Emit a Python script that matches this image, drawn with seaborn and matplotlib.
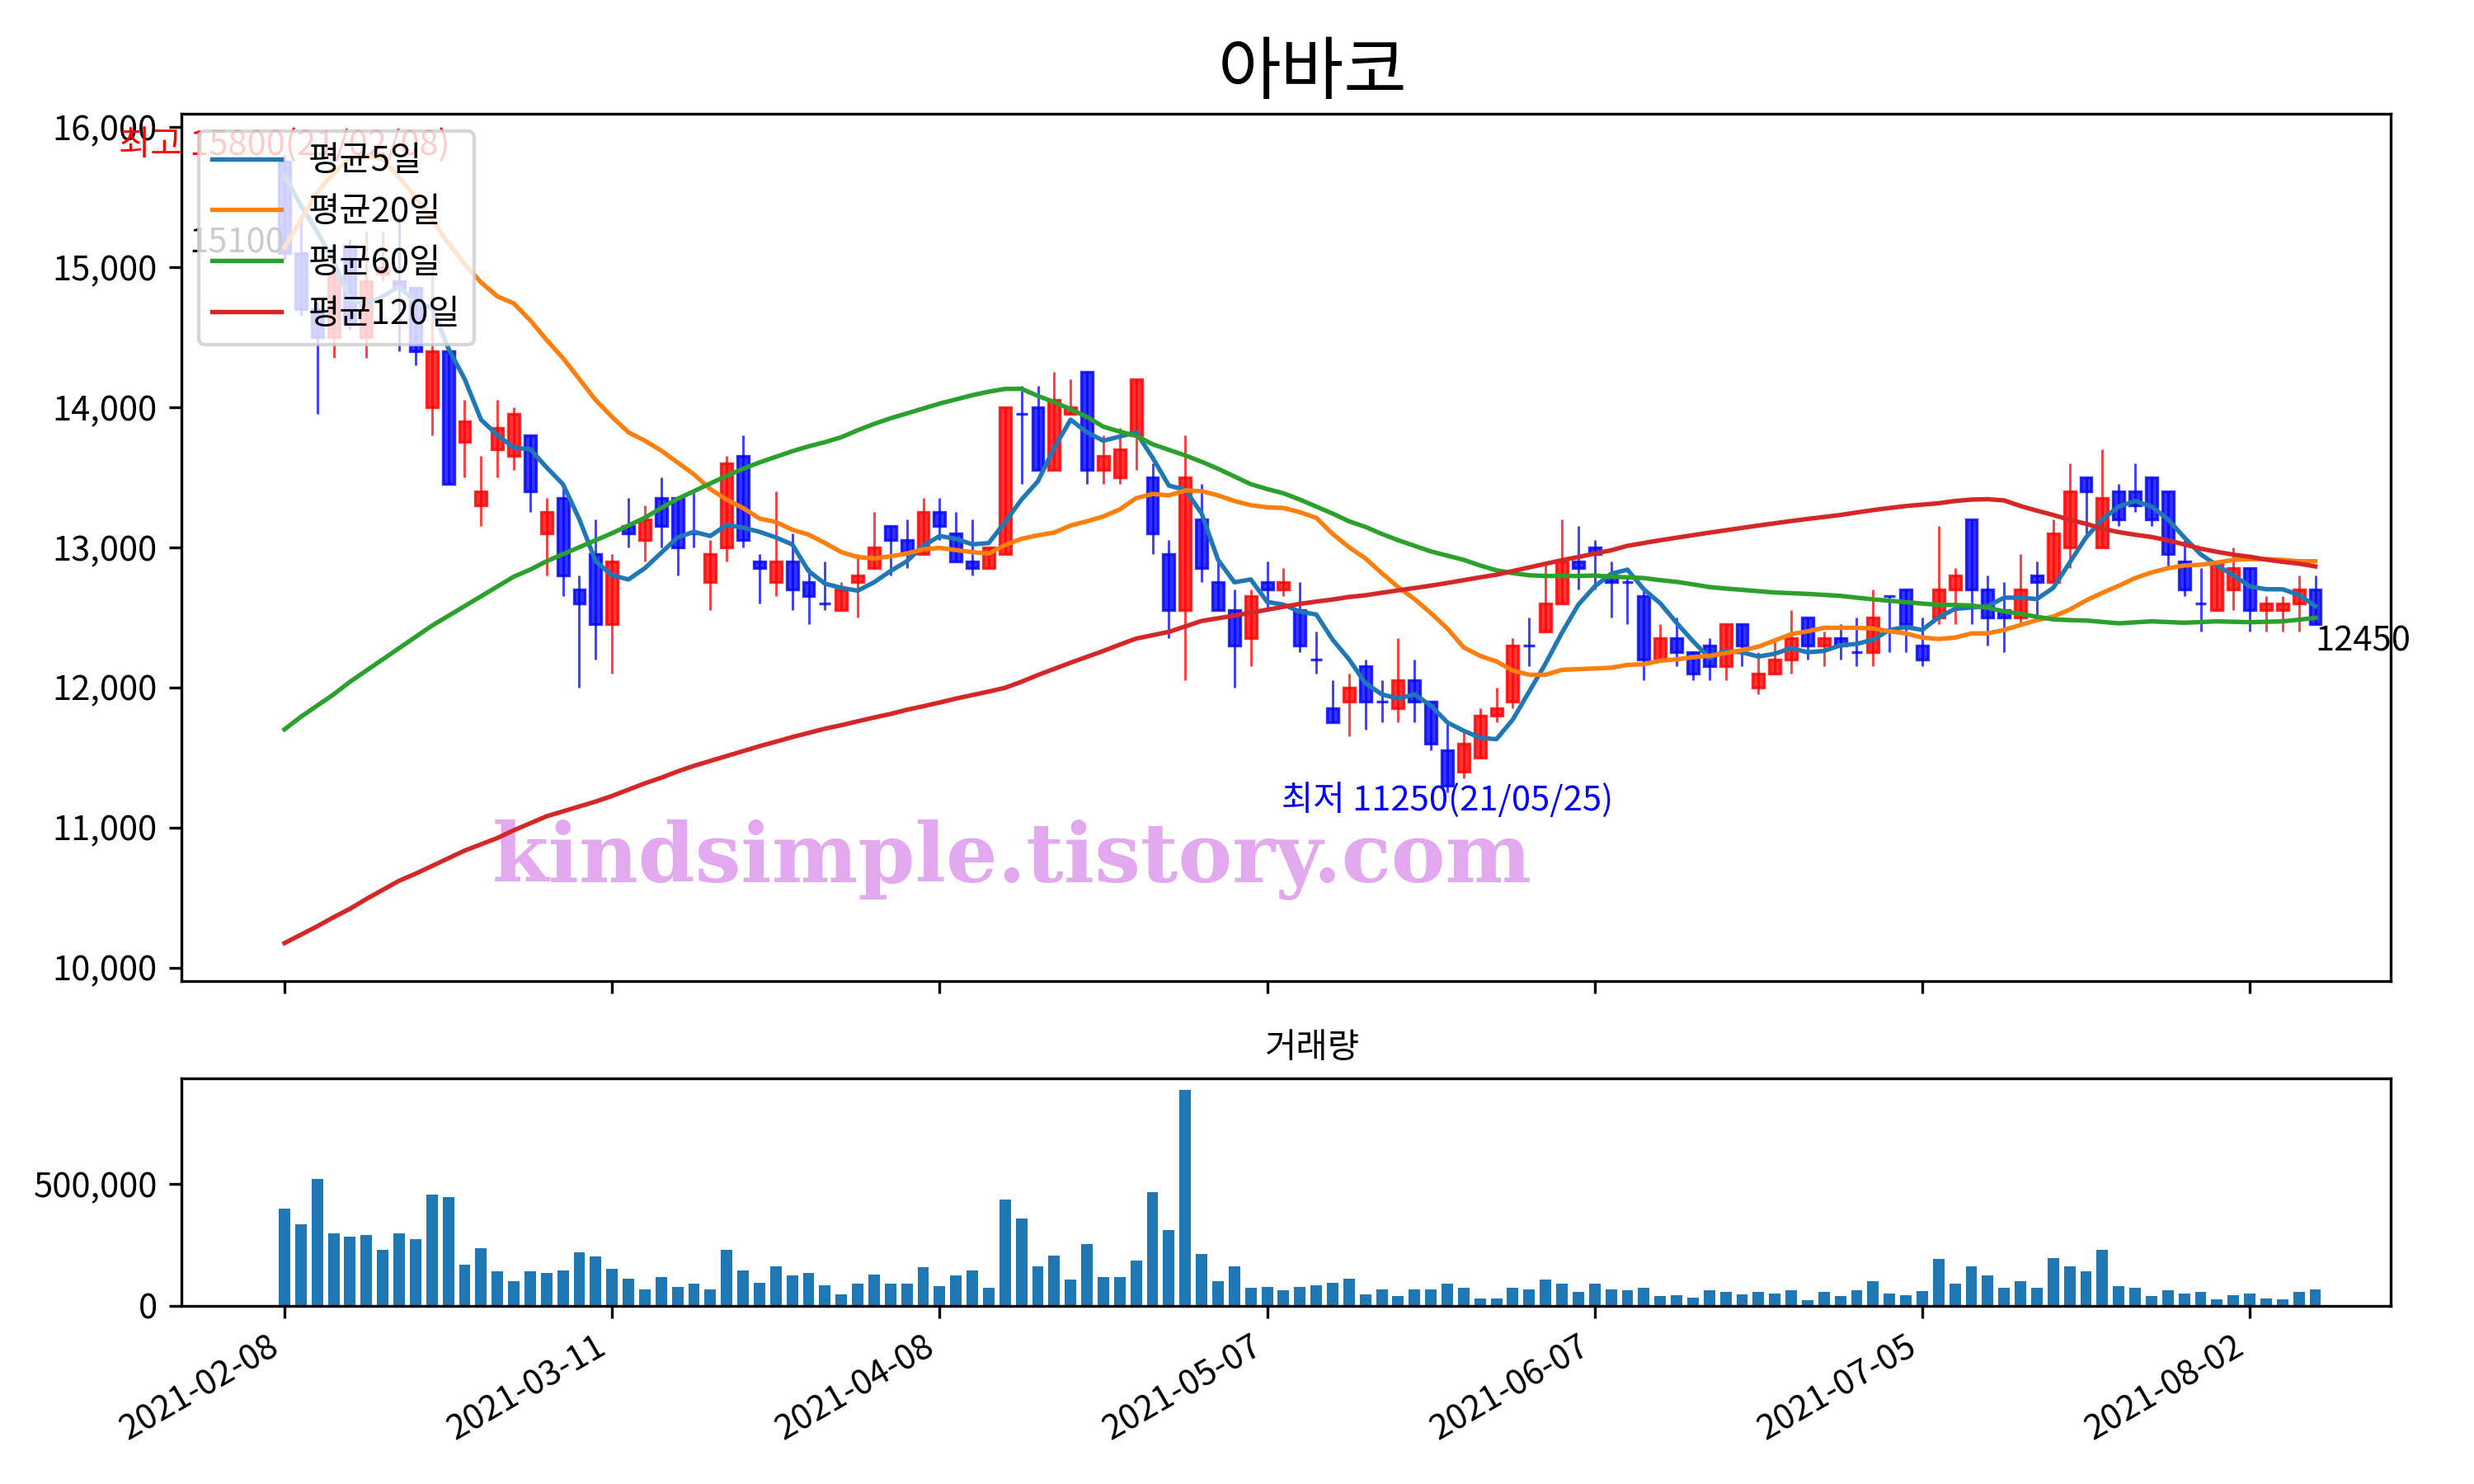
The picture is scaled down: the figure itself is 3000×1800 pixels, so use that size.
import numpy as np
import pandas as pd
import matplotlib
matplotlib.use('Agg')
import matplotlib.pyplot as plt
import seaborn as sns
from matplotlib.ticker import FuncFormatter

# trading days (KRX), holidays in the period
holidays = ['2021-02-11', '2021-02-12', '2021-03-01', '2021-05-05', '2021-05-19']
dates = pd.bdate_range('2021-02-08', '2021-08-06', freq='C', holidays=holidays)

opens = [15750, 15100, 14700, 14500, 15150, 14500, 14950, 14900, 14850, 14000,
         14400, 13750, 13300, 13700, 13650, 13800, 13100, 13350, 12700, 12950,
         12450, 13150, 13050, 13350, 13350, 13100, 12750, 13000, 13650, 12900,
         12750, 12900, 12750, 12600, 12550, 12750, 12850, 13150, 13050, 12950,
         13250, 13100, 12900, 12850, 12950, 13950, 14000, 13550, 13950, 14250,
         13550, 13500, 13800, 13500, 12950, 12550, 13200, 12750, 12550, 12350,
         12750, 12700, 12550, 12200, 11850, 11900, 12150, 11900, 11850, 12050,
         11900, 11550, 11400, 11500, 11800, 11900, 12300, 12400, 12600, 12900,
         13000, 12800, 12750, 12650, 12200, 12350, 12250, 12300, 12150, 12450,
         12000, 12100, 12200, 12500, 12300, 12350, 12250, 12250, 12650, 12700,
         12300, 12500, 12700, 13200, 12700, 12550, 12500, 12800, 12750, 13000,
         13500, 13000, 13400, 13400, 13500, 13400, 12900, 12600, 12550, 12700,
         12850, 12550, 12550, 12600, 12700]
highs = [15800, 15350, 14750, 15000, 15200, 15250, 15250, 15350, 14850, 15000,
         14450, 14050, 13650, 14050, 14000, 13800, 13350, 13450, 12800, 13200,
         12950, 13350, 13300, 13500, 13350, 13400, 13050, 13650, 13800, 12950,
         13400, 13100, 12850, 12900, 12750, 12950, 13250, 13150, 13200, 13350,
         13350, 13250, 13200, 13000, 14000, 14150, 14150, 14250, 14200, 14250,
         13800, 13850, 14200, 13600, 13050, 13800, 13450, 12900, 12700, 12700,
         12900, 12850, 12750, 12400, 12050, 12100, 12200, 12050, 12350, 12200,
         11900, 11750, 11700, 11850, 12000, 12350, 12500, 12900, 13200, 13150,
         13050, 12900, 12800, 12700, 12450, 12500, 12250, 12350, 12450, 12450,
         12250, 12350, 12550, 12500, 12400, 12450, 12500, 12700, 12650, 12700,
         12500, 13150, 12850, 13200, 12800, 12750, 12950, 12900, 13200, 13600,
         13500, 13700, 13450, 13600, 13500, 13400, 13050, 12850, 12900, 13000,
         12850, 12650, 12650, 12800, 12800]
lows = [15050, 14650, 13950, 14350, 14550, 14350, 14900, 14400, 14300, 13800,
        13450, 13500, 13150, 13500, 13550, 13250, 12800, 12650, 12000, 12200,
        12100, 13000, 12900, 13000, 12800, 13000, 12550, 12900, 13000, 12600,
        12650, 12550, 12450, 12550, 12550, 12500, 12850, 12800, 12850, 12950,
        13050, 12900, 12800, 12850, 12950, 13450, 13550, 13550, 13950, 13450,
        13450, 13450, 13550, 12950, 12350, 12050, 12750, 12550, 12000, 12150,
        12550, 12650, 12250, 12100, 11750, 11650, 11700, 11750, 11750, 11750,
        11550, 11250, 11350, 11500, 11750, 11850, 12150, 12400, 12600, 12700,
        12700, 12500, 12450, 12050, 12200, 12150, 12050, 12050, 12050, 12150,
        11950, 12100, 12100, 12200, 12150, 12200, 12150, 12150, 12250, 12250,
        12150, 12450, 12450, 12450, 12300, 12250, 12450, 12500, 12750, 12850,
        13100, 13000, 13150, 13250, 13150, 12850, 12650, 12400, 12550, 12550,
        12400, 12400, 12400, 12400, 12450]
closes = [15100, 14700, 14500, 14950, 14600, 14900, 15000, 14850, 14400, 14400,
          13450, 13900, 13400, 13850, 13950, 13400, 13250, 12800, 12600, 12450,
          12900, 13100, 13200, 13150, 13000, 13100, 12950, 13600, 13050, 12850,
          12900, 12700, 12650, 12600, 12700, 12800, 13000, 13050, 12950, 13250,
          13150, 12900, 12850, 13000, 14000, 13950, 13550, 14050, 14000, 13550,
          13650, 13700, 14200, 13100, 12550, 13500, 12850, 12550, 12300, 12650,
          12700, 12750, 12300, 12200, 11750, 12000, 11900, 11900, 12050, 11900,
          11600, 11300, 11600, 11800, 11850, 12300, 12300, 12600, 12900, 12850,
          12950, 12750, 12750, 12200, 12350, 12250, 12100, 12150, 12450, 12300,
          12100, 12200, 12350, 12300, 12350, 12300, 12250, 12500, 12650, 12450,
          12200, 12700, 12800, 12700, 12500, 12500, 12700, 12750, 13100, 13400,
          13400, 13350, 13200, 13300, 13200, 12950, 12700, 12600, 12900, 12850,
          12550, 12600, 12600, 12700, 12450]

ma5 = [15650, 15440, 15250, 15040, 14770, 14730, 14790, 14860, 14750, 14710,
       14420, 14200, 13910, 13800, 13710, 13700, 13570, 13450, 13200, 12900,
       12800, 12770, 12850, 12960, 13070, 13110, 13080, 13160, 13140, 13110,
       13070, 13020, 12830, 12740, 12710, 12690, 12750, 12830, 12900, 13010,
       13080, 13060, 13020, 13030, 13180, 13340, 13470, 13710, 13910, 13820,
       13760, 13790, 13820, 13640, 13440, 13410, 13240, 12910, 12750, 12770,
       12610, 12590, 12540, 12520, 12340, 12200, 12030, 11950, 11920, 11950,
       11870, 11750, 11690, 11640, 11630, 11770, 11970, 12170, 12390, 12590,
       12720, 12810, 12840, 12700, 12600, 12460, 12330, 12210, 12260, 12250,
       12220, 12240, 12280, 12250, 12260, 12300, 12310, 12340, 12410, 12430,
       12410, 12500, 12560, 12570, 12580, 12640, 12640, 12630, 12710, 12890,
       13070, 13200, 13290, 13330, 13290, 13200, 13070, 12950, 12870, 12800,
       12720, 12700, 12700, 12660, 12580]
ma20 = [15140, 15340, 15530, 15670, 15780, 15790, 15770, 15640, 15500, 15340,
        15170, 15020, 14890, 14790, 14740, 14620, 14480, 14350, 14200, 14050,
        13930, 13820, 13760, 13690, 13605, 13520, 13415, 13340, 13280, 13205,
        13180, 13125, 13090, 13030, 12965, 12930, 12920, 12935, 12955, 12985,
        12995, 12980, 12965, 12955, 13015, 13060, 13085, 13105, 13155, 13185,
        13220, 13270, 13350, 13380, 13370, 13405, 13400, 13370, 13330, 13300,
        13285, 13280, 13250, 13210, 13095, 13000, 12920, 12815, 12715, 12630,
        12530, 12420, 12285, 12225, 12185, 12120, 12090, 12090, 12125, 12130,
        12135, 12140, 12160, 12165, 12190, 12200, 12215, 12225, 12245, 12265,
        12290, 12335, 12380, 12400, 12425, 12425, 12425, 12420, 12400, 12385,
        12355, 12345, 12355, 12385, 12385, 12410, 12445, 12480, 12505, 12555,
        12620, 12675, 12725, 12780, 12820, 12850, 12870, 12875, 12890, 12910,
        12915, 12915, 12910, 12900, 12900]
ma60 = [11700, 11790, 11870, 11950, 12040, 12120, 12200, 12280, 12360, 12440,
        12510, 12580, 12650, 12720, 12790, 12840, 12900, 12950, 13000, 13050,
        13100, 13155, 13210, 13280, 13345, 13400, 13455, 13510, 13560, 13605,
        13645, 13685, 13720, 13750, 13785, 13835, 13880, 13920, 13955, 13990,
        14025, 14055, 14085, 14110, 14130, 14130, 14080, 14035, 13985, 13930,
        13860, 13825, 13795, 13735, 13695, 13655, 13610, 13560, 13505, 13450,
        13415, 13385, 13340, 13290, 13240, 13185, 13145, 13095, 13050, 13010,
        12970, 12940, 12910, 12870, 12835, 12815, 12800, 12795, 12795, 12795,
        12798, 12790, 12785, 12780, 12765, 12753, 12735, 12716, 12705, 12696,
        12686, 12677, 12672, 12667, 12660, 12653, 12640, 12628, 12618, 12608,
        12598, 12588, 12588, 12584, 12569, 12542, 12524, 12504, 12485, 12480,
        12477, 12467, 12457, 12464, 12471, 12466, 12461, 12466, 12471, 12468,
        12465, 12468, 12471, 12483, 12496]
ma120 = [10175, 10235, 10295, 10360, 10420, 10490, 10555, 10620, 10670, 10725,
         10780, 10835, 10880, 10925, 10980, 11030, 11080, 11115, 11150, 11185,
         11225, 11270, 11315, 11355, 11400, 11440, 11475, 11510, 11545, 11580,
         11612, 11645, 11675, 11705, 11730, 11758, 11785, 11810, 11840, 11865,
         11892, 11920, 11945, 11970, 11997, 12040, 12088, 12132, 12176, 12218,
         12260, 12305, 12348, 12372, 12396, 12435, 12474, 12493, 12512, 12533,
         12554, 12575, 12596, 12612, 12627, 12645, 12657, 12675, 12692, 12709,
         12726, 12745, 12765, 12785, 12804, 12830, 12856, 12882, 12908, 12930,
         12955, 12978, 13010, 13030, 13050, 13068, 13086, 13104, 13121, 13138,
         13155, 13171, 13187, 13202, 13216, 13230, 13248, 13265, 13280, 13294,
         13304, 13314, 13330, 13340, 13343, 13334, 13294, 13261, 13230, 13196,
         13167, 13132, 13108, 13089, 13073, 13049, 13020, 12990, 12967, 12947,
         12932, 12912, 12896, 12883, 12863]

volume = [399000, 334000, 522000, 297000, 284000, 290000, 229000, 297000, 273000, 457000,
          447000, 171000, 236000, 144000, 103000, 144000, 134000, 147000, 219000, 202000,
          151000, 113000, 69000, 117000, 79000, 93000, 69000, 229000, 147000, 96000,
          161000, 124000, 134000, 86000, 49000, 93000, 130000, 93000, 93000, 158000,
          83000, 124000, 147000, 76000, 437000, 358000, 164000, 205000, 107000, 253000,
          117000, 117000, 185000, 467000, 311000, 889000, 212000, 103000, 161000, 76000,
          79000, 66000, 79000, 86000, 96000, 113000, 49000, 69000, 42000, 69000,
          69000, 93000, 73000, 32000, 32000, 73000, 69000, 110000, 93000, 56000,
          93000, 69000, 66000, 76000, 39000, 45000, 35000, 66000, 56000, 49000,
          59000, 52000, 66000, 25000, 56000, 42000, 66000, 100000, 52000, 45000,
          62000, 192000, 93000, 161000, 127000, 76000, 103000, 73000, 198000, 161000,
          141000, 229000, 83000, 73000, 42000, 66000, 52000, 56000, 28000, 45000,
          52000, 32000, 28000, 56000, 69000]

title = '아바코'
ma_labels = ['평균5일', '평균20일', '평균60일', '평균120일']

plt.rcParams['font.family'] = ['Noto Sans CJK KR', 'DejaVu Sans']
plt.rcParams['axes.unicode_minus'] = False

o = np.array(opens)
h = np.array(highs)
l = np.array(lows)
c = np.array(closes)
idx = np.arange(len(c))

fig = plt.figure(figsize=(10, 6), dpi=300)
ax = fig.add_axes([0.0733, 0.339, 0.893, 0.5845])
ax2 = fig.add_axes([0.0733, 0.12, 0.893, 0.1533], sharex=ax)

# candles: red up, blue down
col = np.where(c > o, 'red', 'blue')
ax.vlines(idx, l, h, colors=col, lw=0.7, alpha=0.75)
ax.bar(idx, np.abs(c - o), bottom=np.minimum(o, c), width=0.7, color=col,
       edgecolor=col, linewidth=0.8, alpha=0.8)

# moving averages
for vals, lab, clr in zip([ma5, ma20, ma60, ma120], ma_labels, ['C0', 'C1', 'C2', 'C3']):
    sns.lineplot(x=idx, y=vals, ax=ax, color=clr, lw=1.3, label=lab)
ax.legend(loc='upper left', fontsize=10)

# annotations
imax = int(np.argmax(h))
imin = int(np.argmin(l))
ax.text(imax, h[imax], f'최고 {h[imax]}({dates[imax]:%y/%m/%d})', color='red',
        ha='center', va='baseline', fontsize=10)
ax.annotate(f'최저 {l[imin]}({dates[imin]:%y/%m/%d})', xy=(imin, l[imin]),
            xytext=(0, -2.3), textcoords='offset points', color='blue',
            ha='center', va='center', fontsize=10)
ax.text(0, c[0], str(c[0]), ha='right', va='baseline', fontsize=10)
ax.text(idx[-1], c[-1], str(c[-1]), ha='left', va='top', fontsize=10)

ax.text(0.376, 0.14, 'kindsimple.tistory.com', transform=ax.transAxes,
        ha='center', va='center', fontsize=23.7, fontweight='bold',
        family='DejaVu Serif', color='#E3A9EF', zorder=1)

ax.set_title(title, fontsize=20, x=0.512)
ax.set_ylim(9905, 16095)
ax.yaxis.set_major_formatter(FuncFormatter(lambda v, p: f'{v:,.0f}'))
ax.tick_params(labelbottom=False, labelsize=10)

# volume
sns.barplot(x=idx, y=volume, ax=ax2, native_scale=True, color='#1f77b4',
            saturation=1, width=0.7, errorbar=None)
ax2.set_title('거래량', fontsize=10, x=0.512)
ax2.set_ylim(0, 935000)
ax2.set_yticks([0, 500000])
ax2.yaxis.set_major_formatter(FuncFormatter(lambda v, p: f'{v:,.0f}'))
ax2.set_xticks(idx[::20])
ax2.set_xticklabels([d.strftime('%Y-%m-%d') for d in dates[::20]], rotation=30, ha='right')
ax2.tick_params(labelsize=10)
ax2.set_xlabel('')
ax2.set_ylabel('')
ax.set_xlim(-6.3, 128.6)

fig.savefig('out.png', dpi=300)
